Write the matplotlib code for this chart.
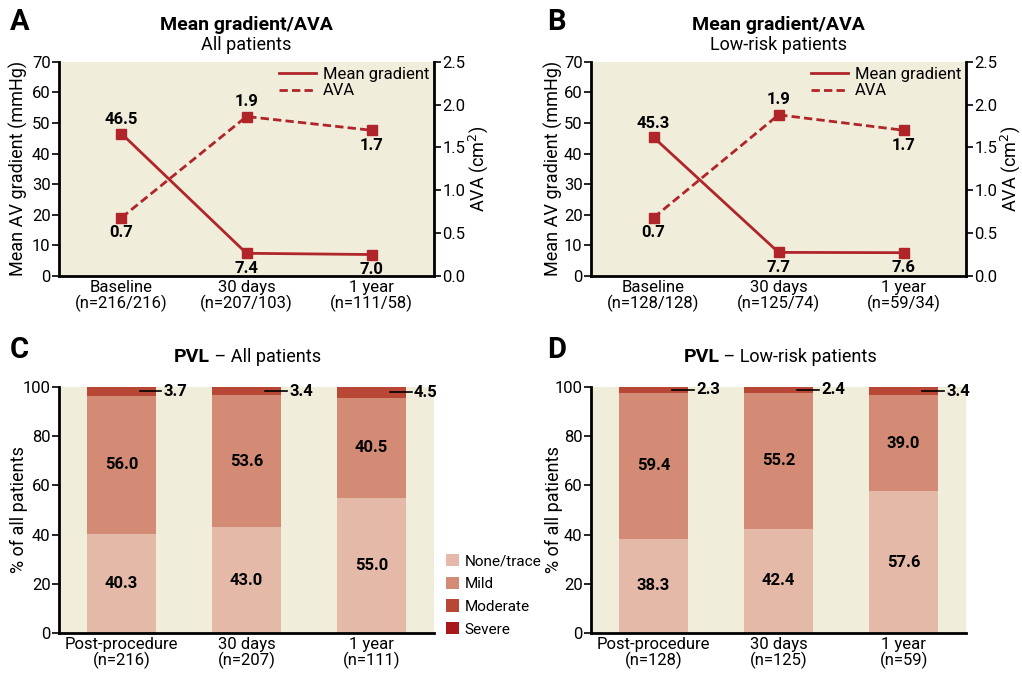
import numpy as np
import matplotlib
matplotlib.use("Agg")
import matplotlib.pyplot as plt
from matplotlib.patches import Patch
from matplotlib.lines import Line2D

plt.rcParams['font.family'] = ['Roboto', 'DejaVu Sans']

# -------------------------------
# DATA
# -------------------------------
line_cats_all = ["Baseline\n(n=216/216)", "30 days\n(n=207/103)", "1 year\n(n=111/58)"]
line_cats_low = ["Baseline\n(n=128/128)", "30 days\n(n=125/74)", "1 year\n(n=59/34)"]
gradient_all = [46.5, 7.4, 7.0]
ava_all = [0.68, 1.86, 1.70]
gradient_low = [45.3, 7.7, 7.6]
ava_low = [0.68, 1.88, 1.70]

bar_cats_all = ["Post-procedure\n(n=216)", "30 days\n(n=207)", "1 year\n(n=111)"]
bar_cats_low = ["Post-procedure\n(n=128)", "30 days\n(n=125)", "1 year\n(n=59)"]
none_all = [40.3, 43.0, 55.0]
mild_all = [56.0, 53.6, 40.5]
moderate_all = [3.7, 3.4, 4.5]
severe_all = [0.0, 0.0, 0.0]
none_low = [38.3, 42.4, 57.6]
mild_low = [59.4, 55.2, 39.0]
moderate_low = [2.3, 2.4, 3.4]
severe_low = [0.0, 0.0, 0.0]

pvl_labels = ["None/trace", "Mild", "Moderate", "Severe"]

BG = "#F1EDDB"
RED = "#B0252A"
PVL_COLORS = ["#E4B9A7", "#D38B76", "#B94735", "#A8191C"]
FS = 12

fig = plt.figure(figsize=(10.22, 6.78), dpi=100)


def style_axis(ax):
    ax.set_facecolor(BG)
    ax.spines['top'].set_visible(False)
    ax.spines['right'].set_visible(False)
    ax.spines['left'].set_linewidth(2)
    ax.spines['bottom'].set_linewidth(2)
    ax.tick_params(axis='y', labelsize=FS, width=1.2, length=5, pad=1)
    ax.tick_params(axis='x', labelsize=FS, length=0, pad=3)


def line_panel(rect, cats, grad, ava, subtitle, letter, letter_x, ylab_x):
    ax = fig.add_axes(rect)
    style_axis(ax)
    x = np.arange(len(cats))
    ax.plot(x, grad, color=RED, lw=2, marker='s', ms=7)
    ax.set_xlim(-0.5, 2.5)
    ax.set_ylim(0, 70)
    ax.set_yticks(range(0, 71, 10))
    ax.set_xticks(x)
    ax.set_xticklabels(cats, linespacing=1.0)
    ax.set_ylabel("Mean AV gradient (mmHg)", fontsize=FS + 1)
    ax.yaxis.set_label_coords(ylab_x, 0.5)

    ax2 = ax.twinx()
    ax2.spines['top'].set_visible(False)
    ax2.spines['left'].set_visible(False)
    ax2.spines['bottom'].set_visible(False)
    ax2.spines['right'].set_linewidth(2)
    ax2.plot(x, ava, color=RED, lw=2, ls=(0, (3, 1.5)), marker='s', ms=7)
    ax2.set_ylim(0, 2.5)
    ax2.set_yticks(np.arange(0, 2.51, 0.5))
    ax2.set_yticklabels([f"{v:.1f}" for v in np.arange(0, 2.51, 0.5)])
    ax2.tick_params(axis='y', labelsize=FS, width=1.2, length=5, pad=1)
    ax2.set_ylabel("AVA (cm$^2$)", fontsize=FS + 1)
    ax2.yaxis.set_label_coords(1.085, 0.5)

    # value labels
    offs_g = [10, -11, -11]
    for i, v in enumerate(grad):
        ax.annotate(f"{v:.1f}", (x[i], v), xytext=(0, offs_g[i]), textcoords='offset points',
                    ha='center', va='center', fontsize=FS, fontweight='bold')
    offs_a = [-11, 11, -11]
    for i, v in enumerate(ava):
        ax2.annotate(f"{v:.1f}", (x[i], v), xytext=(0, offs_a[i]), textcoords='offset points',
                     ha='center', va='center', fontsize=FS, fontweight='bold')

    handles = [Line2D([], [], color=RED, lw=2), Line2D([], [], color=RED, lw=2, ls=(0, (3, 1.5)))]
    ax2.legend(handles, ["Mean gradient", "AVA"], loc='upper right', frameon=False,
               fontsize=FS, handlelength=2.2, borderaxespad=0.1, borderpad=0.2,
               labelspacing=0.1, handletextpad=0.4)

    cx = rect[0] + rect[2] / 2
    fig.text(cx, 0.963, "Mean gradient/AVA", ha='center', va='center', fontsize=FS + 2, fontweight='bold')
    fig.text(cx, 0.933, subtitle, ha='center', va='center', fontsize=FS + 1)
    fig.text(letter_x, 0.968, letter, ha='left', va='center', fontsize=FS + 9, fontweight='bold')
    return ax


def bar_panel(rect, cats, none, mild, moderate, severe, subtitle, letter, letter_x, ylab_x, title_dx):
    ax = fig.add_axes(rect)
    style_axis(ax)
    x = np.arange(len(cats))
    w = 0.55
    bottom = np.zeros(len(cats))
    for vals, col in zip([none, mild, moderate, severe], PVL_COLORS):
        ax.bar(x, vals, w, bottom=bottom, color=col, edgecolor='none')
        bottom += np.array(vals)
    for i in range(len(cats)):
        ax.text(x[i], none[i] / 2, f"{none[i]:.1f}", ha='center', va='center',
                fontsize=FS, fontweight='bold')
        ax.text(x[i], none[i] + mild[i] / 2, f"{mild[i]:.1f}", ha='center', va='center',
                fontsize=FS, fontweight='bold')
        ym = none[i] + mild[i] + moderate[i] / 2
        ax.plot([x[i] + 0.15, x[i] + 0.32], [ym, ym], color='black', lw=1.2)
        ax.text(x[i] + 0.34, ym, f"{moderate[i]:.1f}", ha='left', va='center',
                fontsize=FS, fontweight='bold')
    ax.set_xlim(-0.5, 2.5)
    ax.set_ylim(0, 100)
    ax.set_yticks(range(0, 101, 20))
    ax.set_xticks(x)
    ax.set_xticklabels(cats, linespacing=1.0)
    ax.set_ylabel("% of all patients", fontsize=FS + 1)
    ax.yaxis.set_label_coords(ylab_x, 0.5)

    cx = rect[0] + rect[2] / 2 + title_dx
    fig.text(cx, 0.474, "PVL", ha='right', va='center', fontsize=FS + 2, fontweight='bold')
    fig.text(cx, 0.474, " \u2013 " + subtitle, ha='left', va='center', fontsize=FS + 1)
    fig.text(letter_x, 0.484, letter, ha='left', va='center', fontsize=FS + 9, fontweight='bold')
    return ax


line_panel([0.0577, 0.593, 0.367, 0.316], line_cats_all, gradient_all, ava_all,
           "All patients", "A", 0.010, -0.083)
line_panel([0.5783, 0.593, 0.367, 0.316], line_cats_low, gradient_low, ava_low,
           "Low-risk patients", "B", 0.535, -0.075)
bar_panel([0.0577, 0.0664, 0.367, 0.363], bar_cats_all, none_all, mild_all, moderate_all, severe_all,
          "All patients", "C", 0.010, -0.083, -0.036)
bar_panel([0.5783, 0.0664, 0.367, 0.363], bar_cats_low, none_low, mild_low, moderate_low, severe_low,
          "Low-risk patients", "D", 0.535, -0.075, -0.058)

patches = [Patch(facecolor=c, edgecolor='none') for c in PVL_COLORS]
fig.legend(patches, pvl_labels, loc='upper left', bbox_to_anchor=(0.436, 0.183), frameon=False,
           fontsize=FS - 1, handlelength=0.85, handleheight=0.85, labelspacing=0.55, handletextpad=0.4,
           borderpad=0, borderaxespad=0)

fig.savefig("out.png", dpi=100)
